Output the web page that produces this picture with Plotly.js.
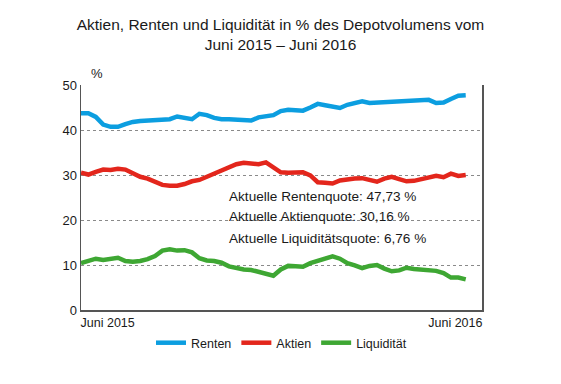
<!DOCTYPE html>
<html><head><meta charset="utf-8">
<script src="https://cdn.plot.ly/plotly-3.0.1.min.js"></script>
<style>html,body{margin:0;padding:0;background:#fff}#chart{width:561px;height:384px}</style>
</head><body><div id="chart"></div>
<script>
// weekly observations, June 2015 – June 2016
const weeks = Array.from({length: 53}, (_, i) => i);
const renten = [43.7,43.7,42.9,41.2,40.7,40.7,41.3,41.8,42.0,42.1,42.2,42.4,42.4,43.0,42.8,42.4,43.6,43.3,42.7,42.4,42.4,42.3,42.1,42.1,42.8,43.1,43.3,44.2,44.5,44.4,44.3,45.0,45.8,45.5,45.1,44.9,45.6,46.0,46.4,46.0,46.1,46.2,46.2,46.3,46.4,46.4,46.5,46.7,46.0,46.1,46.9,47.6,47.7];
const aktien = [30.5,30.1,30.7,31.2,31.1,31.4,31.2,30.4,29.6,29.2,28.6,27.8,27.6,27.6,28.0,28.6,28.9,29.6,30.3,30.9,31.8,32.4,32.7,32.6,32.4,32.8,31.8,30.6,30.5,30.6,30.6,29.9,28.4,28.3,28.1,28.8,29.1,29.2,29.3,28.9,28.5,29.2,29.6,29.1,28.6,28.7,29.0,29.3,29.8,29.5,30.3,29.8,30.0];
const liquiditaet = [10.4,11.0,11.4,11.1,11.4,11.6,10.9,10.7,10.9,11.3,12.0,13.2,13.5,13.2,13.3,12.8,11.5,11.0,10.9,10.5,9.7,9.3,9.0,8.9,8.5,8.0,7.6,9.0,9.8,9.7,9.6,10.4,10.9,11.2,11.9,11.4,10.4,9.9,9.3,9.8,10.0,9.2,8.6,8.8,9.4,9.1,8.9,8.7,8.7,8.2,7.2,7.2,6.8];
const seriesNames = ["Renten", "Aktien", "Liquidität"];
const xTickLabels = ["Juni 2015", "Juni 2016"];
const xTickPos = [3.6, 50.6];
const yTicks = [0, 10, 20, 30, 40, 50];
const notes = ["Aktuelle Rentenquote: 47,73 %", "Aktuelle Aktienquote: 30,16 %", "Aktuelle Liquiditätsquote: 6,76 %"];
const noteY = [25.3, 20.7, 16.0];

const colors = ["#0c9ee0", "#e3261c", "#3ea733"];
const font = "Liberation Sans, Arial, sans-serif";
const data = [renten, aktien, liquiditaet].map((vals, k) => ({
  x: weeks, y: vals, type: "scatter", mode: "lines", name: seriesNames[k],
  line: {color: colors[k], width: 4.5, shape: "linear"}
}));

const annotations = notes.map((t, i) => ({
  x: 19.7, y: noteY[i], xref: "x", yref: "y", text: t, showarrow: false,
  xanchor: "left", yanchor: "middle", font: {family: font, size: 13.6, color: "#1a1a1a"}
}));
annotations.push({x: 0, xref: "paper", xanchor: "left", xshift: 8, y: 1, yref: "paper", yanchor: "bottom", yshift: 2,
  text: "%", showarrow: false, font: {family: font, size: 13, color: "#1a1a1a"}});

const layout = {
  width: 561, height: 384,
  margin: {l: 81, r: 79, t: 85, b: 74},
  paper_bgcolor: "#fff", plot_bgcolor: "#fff",
  title: {text: "Aktien, Renten und Liquidität in % des Depotvolumens vom<br>Juni 2015 – Juni 2016",
    font: {family: font, size: 15.5, color: "#1a1a1a"}, x: 0.5, xanchor: "center", y: 0.922, yanchor: "top"},
  xaxis: {range: [0, 54.2], tickvals: xTickPos, ticktext: xTickLabels, showgrid: false, zeroline: false,
    showline: true, linecolor: "#555", linewidth: 1.5, ticks: "", tickfont: {family: font, size: 12.5, color: "#1a1a1a"}, fixedrange: true},
  yaxis: {range: [0, 50], tickvals: yTicks, showgrid: true, gridcolor: "#8a8a8a", griddash: "dot", gridwidth: 1,
    zeroline: false, showline: true, mirror: true, linecolor: "#555", linewidth: 1.5, ticks: "",
    tickfont: {family: font, size: 13, color: "#1a1a1a"}, ticklen: 0, fixedrange: true},
  showlegend: true,
  legend: {orientation: "h", x: 0.5, xanchor: "center", y: -0.147, yanchor: "middle",
    font: {family: font, size: 12.5, color: "#1a1a1a"}, itemwidth: 30},
  annotations: annotations
};
Plotly.newPlot("chart", data, layout, {displayModeBar: false, staticPlot: true});
</script></body></html>
